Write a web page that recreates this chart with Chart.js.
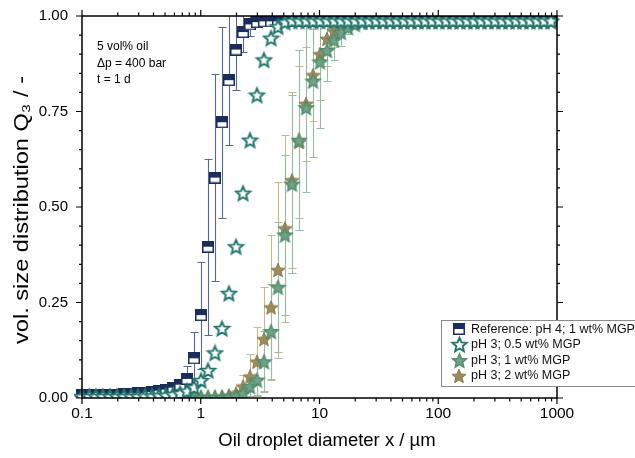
<!DOCTYPE html>
<html><head><meta charset="utf-8">
<script src="https://cdn.jsdelivr.net/npm/chart.js@4.4.1/dist/chart.umd.min.js"></script>
<style>html,body{margin:0;padding:0;background:#fff;}#wrap{width:635px;height:458px;position:relative;}</style>
</head><body><div id="wrap"><canvas id="c" width="635" height="458"></canvas></div>
<script>
// ---- data ----
const diameters = [0.100,0.115,0.131,0.150,0.172,0.197,0.226,0.259,0.296,0.339,0.389,0.445,0.510,0.584,0.669,0.766,0.877,
  1.005,1.151,1.318,1.510,1.729,1.981,2.269,2.599,2.976,3.409,3.905,4.472,5.122,5.867,6.720,7.697,8.816,
  10.097,11.565,13.246,15.172,17.377,19.904,22.797,26.111,29.907,34.255,39.234,44.938,51.471,58.953,67.523,77.339,88.583,
  101.46,116.21,133.10,152.45,174.62,200.00,229.08,262.38,300.52,344.21,394.24,451.56,517.20,592.39,678.50,777.14,890.12];

const refQ3 = [0.007,0.007,0.008,0.008,0.009,0.009,0.010,0.011,0.012,0.013,0.016,0.019,0.022,0.027,0.035,0.050,0.104,
  0.217,0.396,0.577,0.722,0.832,0.912,0.958,0.978,0.984,0.986,0.986,0.986,0.986,0.986,0.986,0.986,0.986,
  0.986,0.986,0.986,0.986,0.986,0.986,0.986,0.986,0.986,0.986,0.986,0.986,0.986,0.986,0.986,0.986,0.986,
  0.986,0.986,0.986,0.986,0.986,0.986,0.986,0.986,0.986,0.986,0.986,0.986,0.986,0.986,0.986,0.986,0.986];
const refErr = [0.002,0.002,0.002,0.002,0.002,0.002,0.002,0.002,0.002,0.002,0.003,0.004,0.005,0.008,0.015,0.035,0.070,
  0.140,0.230,0.270,0.250,0.170,0.106,0.052,0.030,0.010,0.005,0.003,0.003,0.003,0.003,0.003,0.003,0.003,
  0.003,0.003,0.003,0.003,0.003,0.003,0.003,0.003,0.003,0.003,0.003,0.003,0.003,0.003,0.003,0.003,0.003,
  0.003,0.003,0.003,0.003,0.003,0.003,0.003,0.003,0.003,0.003,0.003,0.003,0.003,0.003,0.003,0.003,0.003];

const ph3_05Q3 = [0.004,0.004,0.004,0.004,0.004,0.004,0.004,0.004,0.004,0.005,0.005,0.006,0.007,0.009,0.012,0.018,0.028,
  0.046,0.072,0.118,0.182,0.274,0.396,0.536,0.675,0.793,0.885,0.942,0.972,0.984,0.987,0.987,0.987,0.987,
  0.987,0.987,0.987,0.987,0.987,0.987,0.987,0.987,0.987,0.987,0.987,0.987,0.987,0.987,0.987,0.987,0.987,
  0.987,0.987,0.987,0.987,0.987,0.987,0.987,0.987,0.987,0.987,0.987,0.987,0.987,0.987,0.987,0.987,0.987];

const ph3_1Q3 = [0.002,0.002,0.002,0.002,0.002,0.002,0.002,0.002,0.002,0.002,0.002,0.002,0.002,0.002,0.002,0.002,0.002,
  0.002,0.002,0.002,0.002,0.003,0.005,0.012,0.030,0.047,0.095,0.174,0.290,0.427,0.560,0.675,0.760,0.830,
  0.880,0.910,0.937,0.957,0.970,0.978,0.983,0.985,0.986,0.986,0.986,0.986,0.986,0.986,0.986,0.986,0.986,
  0.986,0.986,0.986,0.986,0.986,0.986,0.986,0.986,0.986,0.986,0.986,0.986,0.986,0.986,0.986,0.986,0.986];
const ph3_1Err = [0.002,0.002,0.002,0.002,0.002,0.002,0.002,0.002,0.002,0.002,0.002,0.002,0.002,0.002,0.002,0.002,0.002,
  0.002,0.002,0.002,0.002,0.002,0.002,0.010,0.025,0.040,0.080,0.124,0.170,0.210,0.234,0.235,0.220,0.200,
  0.174,0.080,0.052,0.035,0.017,0.012,0.008,0.004,0.003,0.003,0.003,0.003,0.003,0.003,0.003,0.003,0.003,
  0.003,0.003,0.003,0.003,0.003,0.003,0.003,0.003,0.003,0.003,0.003,0.003,0.003,0.003,0.003,0.003,0.003];

const ph3_2Q3 = [0.002,0.002,0.002,0.002,0.002,0.002,0.002,0.002,0.002,0.002,0.002,0.002,0.002,0.002,0.002,0.002,0.002,
  0.002,0.002,0.002,0.003,0.006,0.012,0.030,0.056,0.095,0.154,0.237,0.335,0.444,0.570,0.670,0.770,0.845,
  0.900,0.940,0.960,0.972,0.980,0.984,0.986,0.986,0.986,0.986,0.986,0.986,0.986,0.986,0.986,0.986,0.986,
  0.986,0.986,0.986,0.986,0.986,0.986,0.986,0.986,0.986,0.986,0.986,0.986,0.986,0.986,0.986,0.986,0.986];
const ph3_2Err = [0.002,0.002,0.002,0.002,0.002,0.002,0.002,0.002,0.002,0.002,0.002,0.002,0.002,0.002,0.002,0.002,0.002,
  0.002,0.002,0.002,0.002,0.002,0.010,0.030,0.060,0.090,0.136,0.190,0.230,0.244,0.230,0.200,0.150,0.120,
  0.120,0.070,0.040,0.020,0.010,0.006,0.004,0.003,0.003,0.003,0.003,0.003,0.003,0.003,0.003,0.003,0.003,
  0.003,0.003,0.003,0.003,0.003,0.003,0.003,0.003,0.003,0.003,0.003,0.003,0.003,0.003,0.003,0.003,0.003];

const seriesNames = ['Reference: pH 4; 1 wt% MGP','pH 3; 0.5 wt% MGP','pH 3; 1 wt% MGP','pH 3; 2 wt% MGP'];
const annotationLines = ['5 vol% oil','\u0394p = 400 bar','t = 1 d'];
const xTickValues = [0.1,1,10,100,1000];
const xTickLabels = ['0.1','1','10','100','1000'];
const yTickValues = [0,0.25,0.5,0.75,1];
const yTickLabels = ['0.00','0.25','0.50','0.75','1.00'];
const xTitle = 'Oil droplet diameter x / \u00b5m';
const yTitle = 'vol. size distribution Q\u2083 / -';

// ---- styles ----
const NAVY = '#1b2d5b', TEAL = '#21756b', GREEN = '#4f8c6b', KHAKI = '#9c8c5c';
const FONT = "'Liberation Sans', Arial, sans-serif";

function halfSquare(size){
  const c=document.createElement('canvas'); c.width=c.height=size; const g=c.getContext('2d');
  g.fillStyle='#fff'; g.fillRect(0,0,size,size);
  g.fillStyle=NAVY; g.fillRect(0,0,size,size*0.5);
  g.strokeStyle=NAVY; g.lineWidth=1.5; g.strokeRect(0.75,0.75,size-1.5,size-1.5);
  return c;
}
function star(R, fill, stroke, lw){
  const s=Math.ceil(2*R+lw+2); const c=document.createElement('canvas'); c.width=c.height=s;
  const g=c.getContext('2d'); g.translate(s/2,s/2+R*0.09);
  g.beginPath();
  for(let k=0;k<10;k++){const r=k%2?R*0.45:R; const a=-Math.PI/2+k*Math.PI/5; g.lineTo(r*Math.cos(a),r*Math.sin(a));}
  g.closePath(); g.fillStyle=fill; g.fill(); g.lineWidth=lw; g.strokeStyle=stroke; g.lineJoin='miter'; g.stroke();
  return c;
}
const icons = [halfSquare(12), star(7.4,'#ffffff',TEAL,1.9), star(7.4,'#6fa286',GREEN,1.4), star(7.4,KHAKI,'#8a7a4b',1.0)];
const errColors = ['#56689a', null, '#97bba4', '#c8b888'];
const qArrays = [refQ3, ph3_05Q3, ph3_1Q3, ph3_2Q3];
const errArrays = [refErr, null, ph3_1Err, ph3_2Err];
const drawOrder = [3,0,1,2];

const datasets = qArrays.map((q,k)=>({
  label: seriesNames[k],
  data: diameters.map((d,i)=>({x:d,y:q[i]})),
  pointStyle: icons[k], pointRadius: 6, showLine:false, order: drawOrder[k],
  clip: {left:8,right:8,top:0,bottom:0}
}));

const errPlugin = {id:'errbars', beforeDatasetsDraw(chart){
  const {ctx, chartArea:a, scales:{x,y}} = chart;
  ctx.save(); ctx.beginPath(); ctx.rect(a.left,a.top,a.right-a.left,a.bottom-a.top); ctx.clip();
  [3,2,0].forEach(k=>{
    const err=errArrays[k]; if(!err) return;
    ctx.strokeStyle=errColors[k]; ctx.lineWidth=1.1;
    diameters.forEach((d,i)=>{
      const e=err[i]; if(e<0.005) return;
      const px=Math.round(x.getPixelForValue(d))+0.5;
      const y1=Math.round(y.getPixelForValue(qArrays[k][i]-e))+0.5, y2=Math.round(y.getPixelForValue(qArrays[k][i]+e))+0.5;
      ctx.beginPath(); ctx.moveTo(px,y1); ctx.lineTo(px,y2);
      ctx.moveTo(px-4,y1); ctx.lineTo(px+4,y1); ctx.moveTo(px-4,y2); ctx.lineTo(px+4,y2); ctx.stroke();
    });
  });
  ctx.restore();
}};

const framePlugin = {id:'frame', afterDatasetsDraw(chart){
  const {ctx, chartArea:a, scales:{x,y}} = chart;
  ctx.save(); ctx.strokeStyle='#000'; ctx.lineWidth=1.5;
  ctx.strokeRect(a.left,a.top,a.right-a.left,a.bottom-a.top);
  ctx.lineWidth=1.2; ctx.beginPath();
  for(let k=0;k<xTickValues.length;k++){
    const base=xTickValues[k];
    for(let m=1;m<=9;m++){
      const v=base*m; if(v>1000) break;
      const px=x.getPixelForValue(v); const L = m===1?6:3.5;
      ctx.moveTo(px,a.bottom); ctx.lineTo(px,a.bottom+L);
      ctx.moveTo(px,a.top); ctx.lineTo(px,a.top-L);
    }
  }
  for(let t=0;t<=20;t++){
    const v=t*0.05; const py=y.getPixelForValue(v); const L = t%5===0?6:3;
    ctx.moveTo(a.left,py); ctx.lineTo(a.left-L,py);
    ctx.moveTo(a.right,py); ctx.lineTo(a.right+L,py);
  }
  ctx.stroke(); ctx.restore();
}, afterDraw(chart){
  const {ctx, chartArea:a} = chart;
  ctx.save();
  ctx.fillStyle='#000'; ctx.textBaseline='middle'; ctx.textAlign='center';
  ctx.font='18.5px '+FONT;
  ctx.fillText(xTitle, 327, 441);
  ctx.save(); ctx.translate(22, (a.top+a.bottom)/2+3); ctx.rotate(-Math.PI/2); ctx.scale(1.18,1);
  ctx.font='20px '+FONT; ctx.fillText(yTitle, 0, 0); ctx.restore();
  ctx.font='12px '+FONT; ctx.textAlign='left';
  annotationLines.forEach((t,i)=>ctx.fillText(t, 97, 47+i*16.5));
  const lx=441, ly=320, lw=200, lh=66;
  ctx.fillStyle='#fff'; ctx.fillRect(lx,ly,lw,lh);
  ctx.strokeStyle='#8a8a8a'; ctx.lineWidth=1; ctx.strokeRect(lx+0.5,ly+0.5,lw,lh);
  ctx.font='12.5px '+FONT; ctx.fillStyle='#111';
  seriesNames.forEach((n,i)=>{
    const cy=ly+9+i*15.5; const ic=icons[i];
    ctx.drawImage(ic, Math.round(459-ic.width/2), Math.round(cy-ic.height/2));
    ctx.fillText(n, 471, cy+0.5);
  });
  ctx.restore();
}};

new Chart(document.getElementById('c'), {
  type:'scatter',
  data:{datasets},
  plugins:[errPlugin, framePlugin],
  options:{
    responsive:false, animation:false, devicePixelRatio:1,
    layout:{padding:{left:0,right:78,top:16,bottom:0}},
    plugins:{legend:{display:false}, tooltip:{enabled:false}},
    scales:{
      x:{type:'logarithmic', min:0.1, max:1000,
        afterBuildTicks(s){ s.ticks = xTickValues.map(v=>({value:v})); },
        afterFit(s){ s.height=60; s.paddingLeft=0; s.paddingRight=0; },
        grid:{display:false, drawTicks:false}, border:{display:false},
        ticks:{autoSkip:false, maxRotation:0, padding:6, color:'#000', font:{family:FONT,size:15.5},
          callback:(v,i)=>xTickLabels[i]},
        title:{display:false}
      },
      y:{type:'linear', min:0, max:1,
        afterBuildTicks(s){ s.ticks = yTickValues.map(v=>({value:v})); },
        afterFit(s){ s.width=82; s.paddingTop=0; s.paddingBottom=0; },
        grid:{display:false, drawTicks:false}, border:{display:false},
        ticks:{padding:14, color:'#000', font:{family:FONT,size:15}, callback:(v,i)=>yTickLabels[i]},
        title:{display:false}
      }
    }
  }
});
</script></body></html>
